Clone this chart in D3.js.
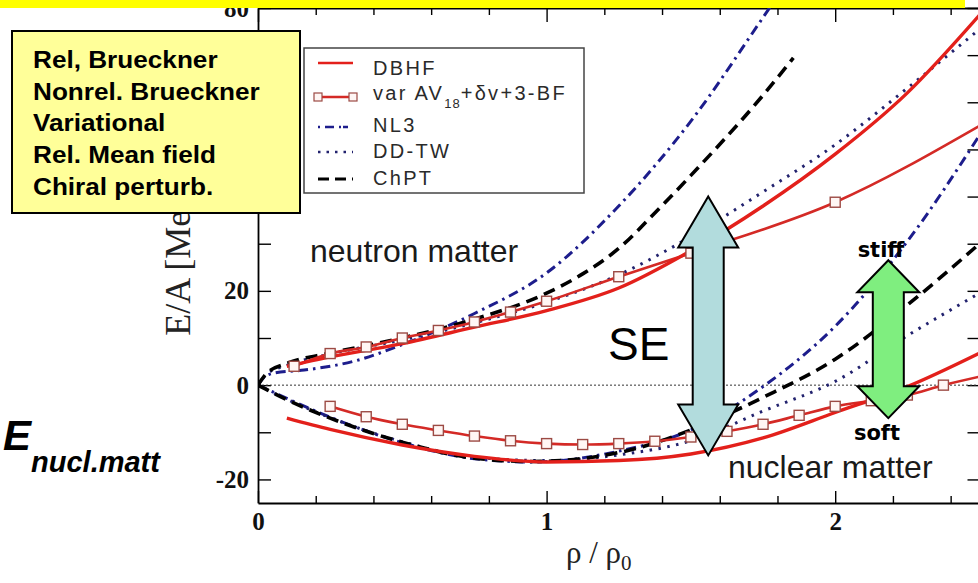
<!DOCTYPE html>
<html>
<head>
<meta charset="utf-8">
<script src="https://cdn.jsdelivr.net/npm/d3@7"></script>
<style>
  html, body { margin: 0; padding: 0; background: #fff; overflow: hidden; }
  svg { display: block; }
</style>
</head>
<body>
<script>
// ---- Equation of state data: E/A [MeV] versus rho/rho0 ----

// DBHF (red solid)
const dbhfNeutronRho = [0.1, 0.25, 0.5, 0.75, 1.0, 1.25, 1.5, 1.75, 2.0, 2.25, 2.5];
const dbhfNeutronE   = [4.0, 6.0, 8.8, 12.3, 15.8, 20.6, 28.5, 38.0, 49.0, 62.0, 78.5];
const dbhfNuclearRho = [0.1, 0.25, 0.5, 0.75, 1.0, 1.25, 1.5, 1.75, 2.0, 2.25, 2.5];
const dbhfNuclearE   = [-7.0, -9.4, -12.7, -15.1, -16.3, -16.0, -14.6, -11.2, -5.8, -0.3, 6.8];

// var AV18 + dv + 3-BF (red with open squares)
const varNeutronRho = [0.125, 0.25, 0.375, 0.5, 0.625, 0.75, 0.875, 1.0, 1.25, 1.5, 2.0, 2.5];
const varNeutronE   = [4.0, 6.7, 8.1, 10.0, 11.6, 13.4, 15.5, 17.8, 23.0, 28.0, 38.8, 55.0];
const varNuclearRho = [0.25, 0.375, 0.5, 0.625, 0.75, 0.875, 1.0, 1.125, 1.25, 1.375, 1.5, 1.625, 1.75, 1.875, 2.0, 2.125, 2.25, 2.375, 2.5];
const varNuclearE   = [-4.5, -6.7, -8.3, -9.6, -10.8, -11.8, -12.4, -12.6, -12.4, -11.9, -11.0, -9.8, -8.3, -6.4, -4.5, -3.3, -2.1, 0.0, 1.8];

// NL3 (blue dash-dot)
const nl3NeutronRho = [0, 0.02, 0.06, 0.16, 0.34, 0.5, 0.75, 1.0, 1.25, 1.5, 1.75, 1.8];
const nl3NeutronE   = [0, 1.6, 2.6, 3.2, 5.2, 8.6, 15.2, 23.8, 38.0, 56.0, 78.0, 82.5];
const nl3NuclearRho = [0, 0.1, 0.25, 0.5, 0.75, 0.95, 1.25, 1.5, 1.75, 2.0, 2.25, 2.5];
const nl3NuclearE   = [0, -2.8, -6.8, -12.2, -15.6, -16.3, -14.0, -9.5, -0.3, 12.5, 30.5, 53.0];

// DD-TW (blue dotted)
const ddtwNeutronRho = [0, 0.03, 0.1, 0.25, 0.5, 0.75, 1.0, 1.25, 1.5, 1.75, 2.0, 2.25, 2.5];
const ddtwNeutronE   = [0, 2.3, 4.2, 6.6, 9.6, 13.2, 17.6, 23.4, 31.5, 41.0, 51.0, 63.0, 75.5];
const ddtwNuclearRho = [0, 0.1, 0.25, 0.5, 0.75, 1.0, 1.25, 1.5, 1.75, 2.0, 2.25, 2.5];
const ddtwNuclearE   = [0, -3.0, -6.9, -12.0, -15.3, -16.0, -14.8, -11.8, -5.5, 0.8, 10.5, 19.5];

// ChPT (black dashed)
const chptNeutronRho = [0, 0.03, 0.1, 0.25, 0.5, 0.75, 1.0, 1.125, 1.25, 1.375, 1.5, 1.75, 1.855];
const chptNeutronE   = [0, 2.5, 4.6, 6.8, 10.0, 14.0, 19.5, 23.6, 29.0, 36.5, 44.5, 61.5, 69.4];
const chptNuclearRho = [0, 0.1, 0.25, 0.5, 0.75, 0.95, 1.25, 1.5, 1.625, 1.75, 2.0, 2.25, 2.5];
const chptNuclearE   = [0, -3.1, -7.0, -12.1, -15.5, -16.2, -14.3, -9.5, -6.2, -2.6, 5.5, 17.0, 30.0];

// Axis ticks
const rhoMajorTicks = [0, 1, 2];
const rhoMinorTicks = [0.2, 0.4, 0.6, 0.8, 1.2, 1.4, 1.6, 1.8, 2.2, 2.4];
const eMajorTicks = [-20, 0, 20, 40, 60, 80];
const eMinorTicks = [-10, 10, 30, 50, 70];

// Legend and annotation texts
const legendNames = ["DBHF", "var AV", "NL3", "DD-TW", "ChPT"];
const methodNames = ["Rel, Brueckner", "Nonrel. Brueckner", "Variational", "Rel. Mean field", "Chiral perturb."];

// ---- Drawing ----
const W = 978, H = 583;
const svg = d3.select("body").append("svg").attr("width", W).attr("height", H);
svg.append("rect").attr("width", W).attr("height", H).attr("fill", "#fff");

const x = d3.scaleLinear().domain([0, 2.5]).range([258, 979.5]);
const y = d3.scaleLinear().domain([-25, 80]).range([503, 8]);

const serif = "'Liberation Serif', 'Times New Roman', serif";
const sans = "'Liberation Sans', Arial, sans-serif";

svg.append("defs").append("clipPath").attr("id", "plotClip")
  .append("rect").attr("x", x(0)).attr("y", y(80))
  .attr("width", x(2.5) - x(0)).attr("height", y(-25) - y(80));

function styleAxis(g, withText) {
  g.attr("font-family", serif).attr("font-size", 25).attr("font-weight", "bold");
  g.select(".domain").attr("stroke", "#000").attr("stroke-width", 1.8);
  g.selectAll(".tick line").attr("stroke", "#000").attr("stroke-width", 1.4);
  if (withText) g.selectAll(".tick text").attr("fill", "#111");
  else g.selectAll(".tick text").remove();
}

const fmt = d => String(d);

// bottom axis
svg.append("g").attr("transform", `translate(0,${y(-25)})`)
  .call(d3.axisBottom(x).tickValues(rhoMajorTicks).tickSize(-12).tickSizeOuter(0).tickPadding(9).tickFormat(fmt))
  .call(g => styleAxis(g, true));
svg.append("g").attr("transform", `translate(0,${y(-25)})`)
  .call(d3.axisBottom(x).tickValues(rhoMinorTicks).tickSize(-7).tickSizeOuter(0))
  .call(g => { styleAxis(g, false); g.select(".domain").remove(); });

// top axis
svg.append("g").attr("transform", `translate(0,${y(80)})`)
  .call(d3.axisTop(x).tickValues(rhoMajorTicks).tickSize(-14).tickSizeOuter(0))
  .call(g => styleAxis(g, false));
svg.append("g").attr("transform", `translate(0,${y(80)})`)
  .call(d3.axisTop(x).tickValues(rhoMinorTicks).tickSize(-7).tickSizeOuter(0))
  .call(g => { styleAxis(g, false); g.select(".domain").remove(); });

// left axis
svg.append("g").attr("transform", `translate(${x(0)},0)`)
  .call(d3.axisLeft(y).tickValues(eMajorTicks).tickSize(-13).tickSizeOuter(0).tickPadding(9).tickFormat(fmt))
  .call(g => styleAxis(g, true));
svg.append("g").attr("transform", `translate(${x(0)},0)`)
  .call(d3.axisLeft(y).tickValues(eMinorTicks).tickSize(-13).tickSizeOuter(0))
  .call(g => { styleAxis(g, false); g.select(".domain").remove(); });

// right axis
svg.append("g").attr("transform", `translate(${x(2.5)},0)`)
  .call(d3.axisRight(y).tickValues(eMajorTicks.concat(eMinorTicks)).tickSize(-12).tickSizeOuter(0))
  .call(g => styleAxis(g, false));

// axis titles
svg.append("text")
  .attr("transform", `translate(190,${y(10.5)}) rotate(-90)`)
  .attr("font-family", serif).attr("font-size", 36).attr("fill", "#222")
  .text("E/A [MeV]");

const xTitle = svg.append("text").attr("x", 566).attr("y", 563)
  .attr("font-family", serif).attr("font-size", 31).attr("fill", "#222");
xTitle.append("tspan").text("ρ / ρ");
xTitle.append("tspan").attr("dy", 7).attr("font-size", 21).text("0");

// zero line
const plot = svg.append("g").attr("clip-path", "url(#plotClip)");
plot.append("line")
  .attr("x1", x(0)).attr("x2", x(2.5)).attr("y1", y(0)).attr("y2", y(0))
  .attr("stroke", "#333").attr("stroke-width", 1).attr("stroke-dasharray", "2,2");

// curves
const styles = {
  dbhf: { stroke: "#e3201b", width: 3.4, dash: null },
  avar: { stroke: "#d42a26", width: 2.6, dash: null },
  nl3:  { stroke: "#1d1d8c", width: 3.0, dash: "10,5,2.5,5" },
  ddtw: { stroke: "#22226e", width: 3.0, dash: "2.5,6.5" },
  chpt: { stroke: "#000000", width: 3.6, dash: "12,7" }
};

const lineGen = d3.line().x(d => x(d[0])).y(d => y(d[1])).curve(d3.curveMonotoneX);
const pairs = (r, e) => r.map((v, i) => [v, e[i]]);

function drawCurve(r, e, st) {
  plot.append("path").datum(pairs(r, e))
    .attr("d", lineGen)
    .attr("fill", "none")
    .attr("stroke", st.stroke)
    .attr("stroke-width", st.width)
    .attr("stroke-dasharray", st.dash)
    .attr("stroke-linejoin", "round");
}

drawCurve(nl3NuclearRho, nl3NuclearE, styles.nl3);
drawCurve(nl3NeutronRho, nl3NeutronE, styles.nl3);
drawCurve(ddtwNuclearRho, ddtwNuclearE, styles.ddtw);
drawCurve(ddtwNeutronRho, ddtwNeutronE, styles.ddtw);
drawCurve(chptNuclearRho, chptNuclearE, styles.chpt);
drawCurve(chptNeutronRho, chptNeutronE, styles.chpt);
drawCurve(varNuclearRho, varNuclearE, styles.avar);
drawCurve(varNeutronRho, varNeutronE, styles.avar);
drawCurve(dbhfNuclearRho, dbhfNuclearE, styles.dbhf);
drawCurve(dbhfNeutronRho, dbhfNeutronE, styles.dbhf);

// square markers of the variational calculation
function drawMarkers(r, e) {
  plot.selectAll(null).data(pairs(r, e).filter(d => d[0] < 2.5)).join("rect")
    .attr("x", d => x(d[0]) - 5).attr("y", d => y(d[1]) - 5)
    .attr("width", 10).attr("height", 10)
    .attr("fill", "#fff6f4").attr("stroke", "#9c4a44").attr("stroke-width", 1.4);
}
drawMarkers(varNuclearRho, varNuclearE);
drawMarkers(varNeutronRho, varNeutronE);

// labels inside the plot
svg.append("text").attr("x", 310).attr("y", 262)
  .attr("font-family", sans).attr("font-size", 32).attr("fill", "#1a1a1a")
  .text("neutron matter");
svg.append("text").attr("x", 728).attr("y", 478)
  .attr("font-family", sans).attr("font-size", 32).attr("fill", "#1a1a1a")
  .text("nuclear matter");

// legend
const lg = svg.append("g");
lg.append("rect").attr("x", 304).attr("y", 48).attr("width", 280).attr("height", 145)
  .attr("fill", "#fff").attr("stroke", "#444").attr("stroke-width", 1.5);
const legendRows = [
  { key: "dbhf", yLine: 63, yText: 75 },
  { key: "avar", yLine: 97, yText: 100 },
  { key: "nl3",  yLine: 127, yText: 132 },
  { key: "ddtw", yLine: 152, yText: 158 },
  { key: "chpt", yLine: 179, yText: 185 }
];
legendRows.forEach((row, i) => {
  const st = styles[row.key];
  lg.append("line").attr("x1", 318).attr("x2", 353).attr("y1", row.yLine).attr("y2", row.yLine)
    .attr("stroke", st.stroke).attr("stroke-width", row.key === "chpt" ? 3 : 2.4)
    .attr("stroke-dasharray", row.key === "nl3" ? "2,5,9,5,2" : row.key === "ddtw" ? "2.5,6" : row.key === "chpt" ? "11,6" : null);
  if (row.key === "avar") {
    [318, 353].forEach(cx => lg.append("rect").attr("x", cx - 4).attr("y", row.yLine - 4)
      .attr("width", 8).attr("height", 8).attr("fill", "#fff6f4").attr("stroke", "#9c4a44").attr("stroke-width", 1.2));
  }
  const t = lg.append("text").attr("x", 373).attr("y", row.yText)
    .attr("font-family", sans).attr("font-size", 20).attr("letter-spacing", 2.3).attr("fill", "#2a2a2a");
  t.append("tspan").text(legendNames[i]);
  if (row.key === "avar") {
    t.append("tspan").attr("dy", 8).attr("font-size", 13).attr("letter-spacing", 1).text("18");
    t.append("tspan").attr("dy", -8).text("+δv+3-BF");
  }
});

// methods box
const mb = svg.append("g");
mb.append("rect").attr("x", 12).attr("y", 31).attr("width", 288).attr("height", 182)
  .attr("fill", "#ffff99").attr("stroke", "#000").attr("stroke-width", 2);
const mbText = mb.append("g").attr("transform", "translate(33,0) scale(1.09,1)");
const methodBaselines = [68, 100, 131, 163, 195];
methodNames.forEach((m, i) => {
  mbText.append("text").attr("x", 0).attr("y", methodBaselines[i])
    .attr("font-family", sans).attr("font-weight", "bold").attr("font-size", 24).attr("fill", "#000")
    .text(m);
});

// top banner
svg.append("rect").attr("x", 0).attr("y", 0).attr("width", 965).attr("height", 8).attr("fill", "#ffff00");

// double arrows
function doubleArrow(cx, eTop, eBottom, headHalf, shaftHalf, headLen, fill) {
  const top = y(eTop), bot = y(eBottom);
  const pts = [
    [cx, top], [cx + headHalf, top + headLen], [cx + shaftHalf, top + headLen],
    [cx + shaftHalf, bot - headLen], [cx + headHalf, bot - headLen], [cx, bot],
    [cx - headHalf, bot - headLen], [cx - shaftHalf, bot - headLen],
    [cx - shaftHalf, top + headLen], [cx - headHalf, top + headLen]
  ];
  svg.append("polygon").attr("points", pts.map(p => p.join(",")).join(" "))
    .attr("fill", fill).attr("stroke", "#000").attr("stroke-width", 2).attr("stroke-linejoin", "miter");
}
doubleArrow(x(1.56), 40.0, -14.9, 30, 15.5, 51, "#b2dcdd");
doubleArrow(x(2.184), 26.5, -7.0, 31, 15.5, 32, "#7fee7f");

svg.append("text").attr("x", 608).attr("y", 360)
  .attr("font-family", sans).attr("font-size", 46).attr("fill", "#000").text("SE");

const comic = "'DejaVu Sans', sans-serif";
svg.append("text").attr("x", 881).attr("y", 257).attr("text-anchor", "middle")
  .attr("font-family", comic).attr("font-weight", "bold").attr("font-size", 21).attr("fill", "#000").text("stiff");
svg.append("text").attr("x", 877).attr("y", 440).attr("text-anchor", "middle")
  .attr("font-family", comic).attr("font-weight", "bold").attr("font-size", 21).attr("fill", "#000").text("soft");

// E_nucl.matt label
const en = svg.append("text").attr("x", 3).attr("y", 450)
  .attr("font-family", sans).attr("font-weight", "bold").attr("font-style", "italic").attr("fill", "#000");
en.append("tspan").attr("font-size", 42).text("E");
en.append("tspan").attr("font-size", 29).attr("dy", 22).text("nucl.matt");
</script>
</body>
</html>
